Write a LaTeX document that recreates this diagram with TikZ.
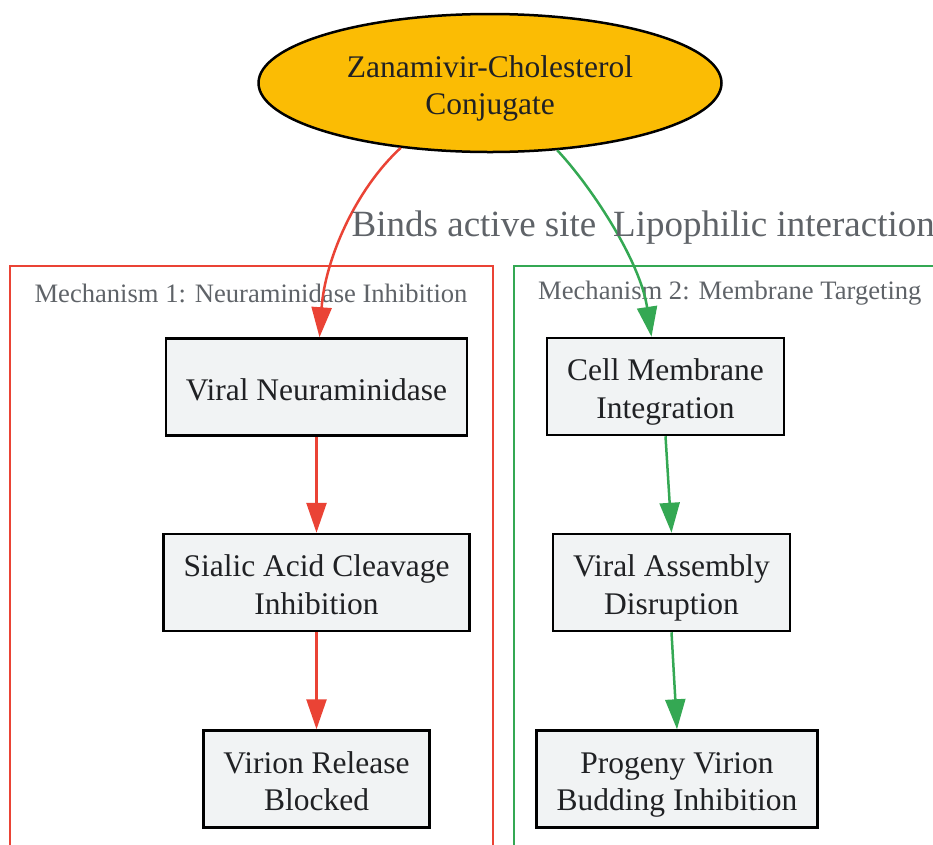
\documentclass[tikz,border=0pt]{standalone}
\usepackage{fontspec}
\setmainfont{Liberation Serif}
\usetikzlibrary{shapes.geometric,arrows.meta}
\definecolor{mechred}{HTML}{EA4335}
\definecolor{mechgreen}{HTML}{34A853}
\definecolor{drugyellow}{HTML}{FBBC04}
\definecolor{boxfill}{HTML}{F1F3F4}
\definecolor{labelgray}{HTML}{5F6368}
\definecolor{textdark}{HTML}{202124}
\newcommand{\linetop}{\rule{0pt}{33pt}}
\newcommand{\linebot}{\rule[-7pt]{0pt}{0pt}}
\begin{document}
\begin{tikzpicture}[x=1pt,y=-1pt,
		stepbox/.style={draw=black,line width=2.5pt,fill=boxfill,text=textdark,align=center,inner xsep=20pt,inner ysep=0pt,minimum height=97pt,font=\fontsize{31.5}{37.5}\selectfont},
		edgelabel/.style={text=labelgray,font=\fontsize{37}{44}\selectfont,inner xsep=0pt},
		clusterlabel/.style={text=labelgray,font=\fontsize{26.6}{32}\selectfont},
		link/.style={line width=2.5pt,->},
		>={Triangle[length=30pt,width=20pt]}]
	\useasboundingbox (0,0) rectangle (933,844);
	\draw[mechred,line width=2.5pt] (10,266) rectangle (493,870);
	\draw[mechgreen,line width=2.5pt] (514,266) rectangle (960,870);
	\node[clusterlabel] (lab1) at (251,293) {Mechanism 1: Neuraminidase Inhibition};
	\node[clusterlabel,anchor=west,inner xsep=0pt] (lab2) at (538,293) {Mechanism 2: Membrane Targeting};
	\node[ellipse,draw=black,line width=2.5pt,fill=drugyellow,text=textdark,minimum width=463pt,minimum height=138pt,inner sep=0pt,align=center,font=\fontsize{31.5}{37.5}\selectfont] (zc) at (490,83) {\linetop Zanamivir-Cholesterol\\Conjugate\linebot};
	\node[stepbox] (vn) at (316.5,387) {\linetop Viral Neuraminidase\linebot};
	\node[stepbox] (sa) at (316.5,582.5) {\linetop Sialic Acid Cleavage\\Inhibition\linebot};
	\node[stepbox] (vr) at (316.5,779) {\linetop Virion Release\\Blocked\linebot};
	\node[stepbox] (cm) at (665.5,386.5) {\linetop Cell Membrane\\Integration\linebot};
	\node[stepbox] (va) at (671.5,582.5) {\linetop Viral Assembly\\Disruption\linebot};
	\node[stepbox] (pv) at (677,779) {\linetop Progeny Virion\\Budding Inhibition\linebot};
	\draw[link,mechred] (zc.216) .. controls (355,190) and (325,260) .. ([xshift=3pt]vn.north);
	\draw[link,mechgreen] (zc.315) .. controls (590,185) and (640,260) .. ([xshift=-14pt]cm.north);
	\node[edgelabel,anchor=base] (bind) at (474,236.5) {Binds active site};
	\node[edgelabel,anchor=base west] (lipo) at (613,236.5) {Lipophilic interaction};
	\draw[link,mechred] (vn) -- (sa);
	\draw[link,mechred] (sa) -- (vr);
	\draw[link,mechgreen] (cm.south) -- (va.north);
	\draw[link,mechgreen] (va.south) -- (pv.north);
\end{tikzpicture}
\end{document}
